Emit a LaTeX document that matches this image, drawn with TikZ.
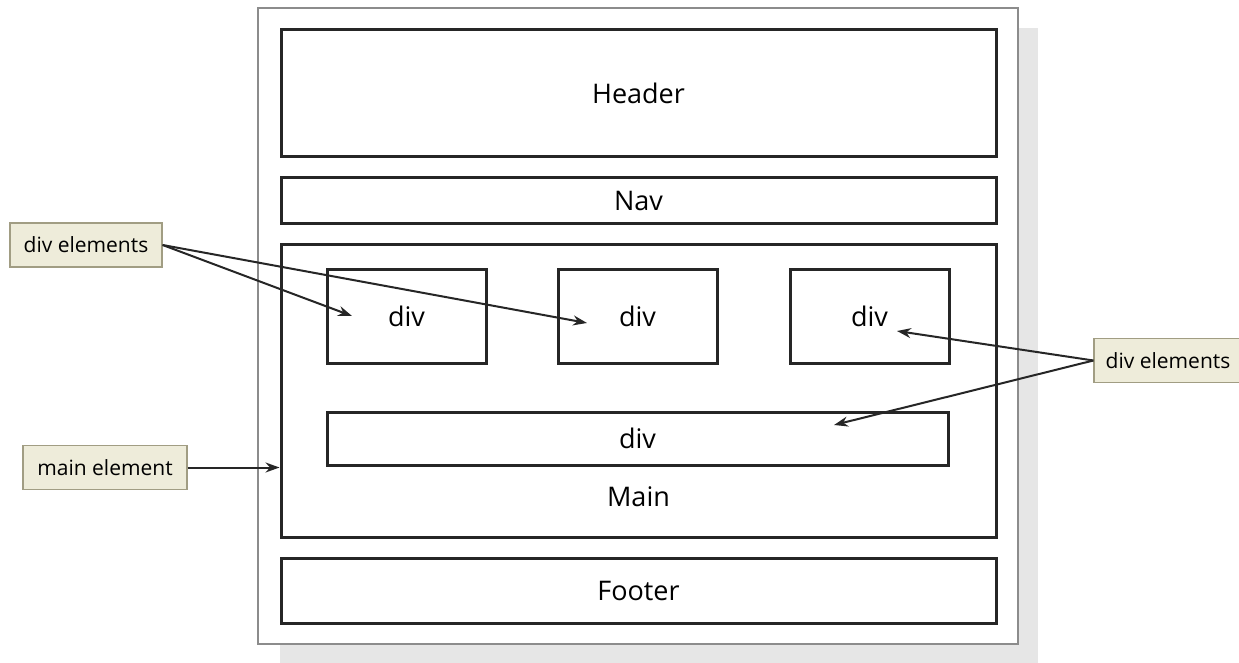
\documentclass[tikz,border=0pt]{standalone}
\usepackage{fontspec}
\setmainfont{Open Sans}
\usepackage{tikz}
\usetikzlibrary{arrows.meta, positioning}
\definecolor{calloutfill}{HTML}{EEECDA}
\definecolor{calloutdraw}{HTML}{A19D83}
\definecolor{pagegray}{HTML}{8C8C8C}
\definecolor{shadowgray}{HTML}{E6E6E6}

\begin{document}
\begin{tikzpicture}[
    x=1pt, y=-1pt,
    >={Stealth[length=14pt, width=10pt]},
    every node/.style={font=\fontsize{27}{32}\selectfont, inner sep=0pt},
    region/.style={rectangle, draw=black!85, line width=3pt,
                   minimum width=#1},
    callout/.style={rectangle, draw=calloutdraw, line width=1.2pt,
                    fill=calloutfill, font=\fontsize{21}{25}\selectfont,
                    minimum height=44pt},
    pointer/.style={->, line width=2pt, black!85},
  ]
  \useasboundingbox (0,0) rectangle (1239,663);

  % page with shadow
  \node[rectangle, fill=shadowgray, minimum width=758pt, minimum height=635pt]
    (shadow) at (659, 345.5) {};
  \node[rectangle, draw=pagegray, fill=white, line width=1.5pt,
        minimum width=760pt, minimum height=636pt] (page) at (638, 326) {};

  % page regions
  \node[region=715pt, minimum height=127pt] (header) at (638.5, 93.5) {Header};
  \node[region=715pt, minimum height=45pt] (nav) at (638.5, 200.5) {Nav};
  \node[region=715pt, minimum height=293pt] (main) at (638.5, 390.5) {};
  \node (mainlbl) at (638.5, 497) {Main};
  \node[region=715pt, minimum height=65pt] (footer) at (638.5, 590.5) {Footer};

  % divs inside main
  \node[region=159pt, minimum height=94pt] (diva) at (406.5, 316) {div};
  \node[region=159pt, minimum height=94pt] (divb) at (637.5, 316) {div};
  \node[region=159pt, minimum height=94pt] (divc) at (869.5, 316) {div};
  \node[region=621pt, minimum height=53pt] (divd) at (637.5, 438.5) {div};

  % callouts
  \node[callout, minimum width=152pt] (divsleft) at (86, 245) {div elements};
  \node[callout, minimum width=148pt] (divsright) at (1168, 360.5) {div elements};
  \node[callout, minimum width=164pt] (mainel) at (105, 467.5) {main element};

  \coordinate (tipa) at (352, 316);
  \coordinate (tipb) at (587, 323);
  \coordinate (tipc) at (897, 331);
  \coordinate (tipd) at (834, 425);

  \draw[pointer] (divsleft.east) -- (tipa);
  \draw[pointer] (divsleft.east) -- (tipb);
  \draw[pointer] (divsright.west) -- (tipc);
  \draw[pointer] (divsright.west) -- (tipd);
  \draw[pointer] (mainel.east) -- (mainel.east -| main.west);
\end{tikzpicture}
\end{document}
